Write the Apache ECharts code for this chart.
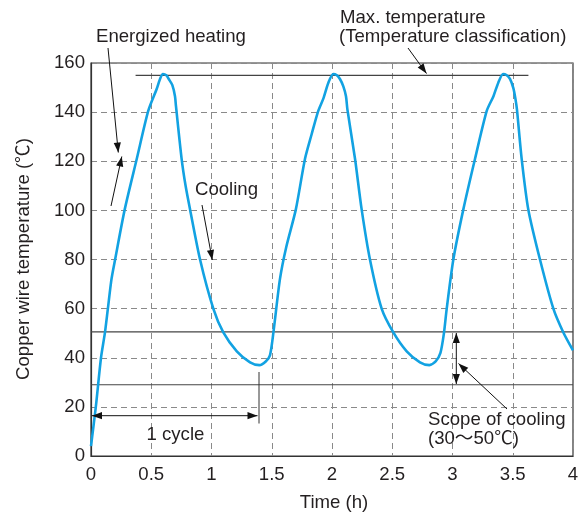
<!DOCTYPE html>
<html>
<head>
<meta charset="utf-8">
<script src="https://cdn.jsdelivr.net/npm/echarts@6/dist/echarts.min.js"></script>
<style>html,body{margin:0;padding:0;background:#fff}#c{width:582px;height:514px}</style>
</head>
<body>
<div id="c"></div>
<script>
// ---- data ----
const xTicks = [0, 0.5, 1, 1.5, 2, 2.5, 3, 3.5, 4];
const yTicks = [0, 20, 40, 60, 80, 100, 120, 140, 160];
const timeH = [0,0.04,0.083,0.115,0.14,0.17,0.2,0.28,0.38,0.475,0.545,0.573,0.597,0.625,0.645,0.675,0.697,0.705,0.752,0.785,0.822,0.905,1.015,1.098,1.21,1.32,1.397,1.45,1.485,1.513,1.568,1.62,1.70,1.776,1.831,1.886,1.928,1.97,2.011,2.04,2.066,2.094,2.116,2.128,2.191,2.246,2.315,2.412,2.509,2.62,2.73,2.808,2.86,2.9,2.929,2.952,3.007,3.09,3.187,3.284,3.34,3.38,3.42,3.45,3.477,3.505,3.522,3.535,3.574,3.629,3.726,3.837,3.92,4.0];
const tempC = [4,20,40,50,60,72,80,100.4,121,140.5,149.4,153.5,155.5,155,153.5,151,146.5,142.5,121,110,100.4,80,60,50.3,42.6,38.1,37,38.5,41,50,72,85,100.4,121,131,140.5,145.5,152,155.5,155,153.5,150.5,146.5,141,121,100.4,80,60,50.3,42.6,38.1,37,38.5,42,50,60,80,100.4,121,140.5,146.5,152,155.5,155,153.5,149.8,145.5,141,121,100.4,80,60,50.3,43];
const maxTempLevel = 155;
const maxTempSpan = [0.37, 3.63];
const coolUpper = 50.5;
const coolLower = 29;

const chart = echarts.init(document.getElementById('c'), null, {renderer: 'canvas'});
const FONT = '"Liberation Sans", Arial, "Noto Sans CJK JP", sans-serif';
const FS = 18.6;
const TXT = '#231f20';

function arrow(x1, y1, x2, y2, both) {
  const els = [{type:'line', shape:{x1, y1, x2, y2}, style:{stroke:'#111', lineWidth:1}, z:100}];
  const head = (tx, ty, fx, fy) => {
    const ang = Math.atan2(ty - fy, tx - fx), L = 10, W = 3.6;
    const bx = tx - L*Math.cos(ang), by = ty - L*Math.sin(ang);
    const px = -Math.sin(ang)*W, py = Math.cos(ang)*W;
    els.push({type:'polygon', shape:{points:[[tx,ty],[bx+px,by+py],[bx-px,by-py]]}, style:{fill:'#111'}, z:100});
  };
  head(x2, y2, x1, y1);
  if (both) head(x1, y1, x2, y2);
  return els;
}
function label(text, x, y, extra) {
  return Object.assign({type:'text', x, y, z:100, style:{text, fill:TXT, font:FS + 'px ' + FONT, textAlign:'left', textVerticalAlign:'middle'}}, extra || {});
}

const series = [
  {type:'line', data: timeH.map((t,i)=>[t,tempC[i]]), showSymbol:false, smooth:0.25,
   lineStyle:{color:'#12a2e2', width:2.6}, z:5, animation:false},
  {type:'line', data: maxTempSpan.map(t=>[t,maxTempLevel]), showSymbol:false, lineStyle:{color:'#444', width:1.2}, z:4, animation:false},
  {type:'line', data: [[0,coolUpper],[4,coolUpper]], showSymbol:false, lineStyle:{color:'#444', width:1.2}, z:4, animation:false},
  {type:'line', data: [[0,coolLower],[4,coolLower]], showSymbol:false, lineStyle:{color:'#444', width:1.2}, z:4, animation:false}
];

const graphic = [].concat(
  [label('Energized heating', 96, 37)],
  arrow(108, 48, 118.3, 152.5),
  arrow(111, 206, 121.8, 156.5),
  [label('Max. temperature', 340, 18), label('(Temperature classification)', 339, 37)],
  arrow(408, 48, 426.5, 73.5),
  [label('Cooling', 195, 190)],
  arrow(202, 205, 212.3, 260),
  [label('Scope of cooling', 428, 420), label('(30～50℃)', 428, 439)],
  arrow(507, 409, 458.5, 363.5),
  arrow(456.3, 333, 456.3, 384, true),
  arrow(92, 415.7, 257.5, 415.7, true),
  [{type:'line', shape:{x1:259, y1:372, x2:259, y2:423.5}, style:{stroke:'#333', lineWidth:1}, z:100}],
  [label('1 cycle', 146.5, 435)],
  [{type:'text', x:24, y:259, rotation:Math.PI/2, z:100, style:{text:'Copper wire temperature (℃)', fill:TXT, font:FS + 'px ' + FONT, textAlign:'center', textVerticalAlign:'middle'}}],
  [{type:'text', x:334, y:503, z:100, style:{text:'Time (h)', fill:TXT, font:FS + 'px ' + FONT, textAlign:'center', textVerticalAlign:'middle'}}]
);

chart.setOption({
  animation:false,
  backgroundColor:'#fff',
  grid:{left:91, right:9, top:63, bottom:58, show:true, borderColor:'#333', borderWidth:1.2, backgroundColor:'transparent'},
  xAxis:{type:'value', min:xTicks[0], max:xTicks[xTicks.length-1], interval:0.5,
    axisLine:{show:true, lineStyle:{color:'#333', width:1.2}}, axisTick:{show:false},
    axisLabel:{color:TXT, fontSize:FS, fontFamily:FONT, margin:10, formatter:v=>String(v)},
    splitLine:{show:true, lineStyle:{color:'#8a8a8a', type:[6,4], width:1}}},
  yAxis:{type:'value', min:yTicks[0], max:yTicks[yTicks.length-1], interval:20,
    axisLine:{show:true, lineStyle:{color:'#333', width:1.2}}, axisTick:{show:false},
    axisLabel:{color:TXT, fontSize:FS, fontFamily:FONT, margin:6},
    splitLine:{show:true, lineStyle:{color:'#8a8a8a', type:[6,4], width:1}}},
  series,
  graphic
});
</script>
</body>
</html>
